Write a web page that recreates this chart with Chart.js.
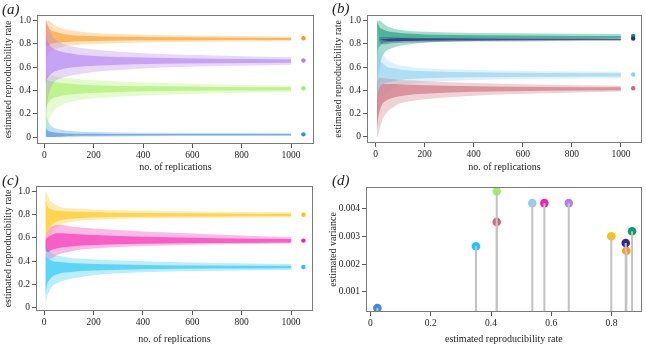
<!DOCTYPE html>
<html>
<head>
<meta charset="utf-8">
<script src="https://cdn.jsdelivr.net/npm/chart.js@4.4.1/dist/chart.umd.min.js"></script>
<style>
  html, body { margin: 0; padding: 0; background: #fff; }
  #wrap { position: relative; width: 646px; height: 345px; overflow: hidden; }
  canvas { position: absolute; }
</style>
</head>
<body>
<div id="wrap">
  <canvas id="ca" width="323" height="172" style="left:0;top:0"></canvas>
  <canvas id="cb" width="323" height="172" style="left:323px;top:0"></canvas>
  <canvas id="cc" width="323" height="173" style="left:0;top:172px"></canvas>
  <canvas id="cd" width="323" height="173" style="left:323px;top:172px"></canvas>
</div>
<script>
// no. of replications where the spread of the trajectories was read off
const reps = [5, 8, 12, 18, 25, 35, 50, 75, 100, 150, 200, 400, 700, 1000];

// panel (a): outer spread (lo/hi) and dense core (coreLo/coreHi)
const aOrangeLo     = [0.60, 0.66, 0.70, 0.72, 0.74, 0.75, 0.76, 0.775, 0.785, 0.795, 0.80, 0.812, 0.82, 0.825];
const aOrangeCoreLo = [0.78, 0.78, 0.78, 0.79, 0.80, 0.805, 0.81, 0.815, 0.82, 0.823, 0.826, 0.831, 0.834, 0.835];
const aOrangeCoreHi = [1.00, 0.98, 0.96, 0.94, 0.92, 0.91, 0.90, 0.885, 0.878, 0.87, 0.866, 0.86, 0.855, 0.852];
const aOrangeHi     = [1.00, 1.00, 1.00, 1.00, 0.99, 0.97, 0.95, 0.93, 0.92, 0.905, 0.895, 0.88, 0.87, 0.864];

const aVioletLo     = [0.05, 0.20, 0.30, 0.37, 0.42, 0.46, 0.49, 0.51, 0.525, 0.545, 0.56, 0.59, 0.61, 0.622];
const aVioletCoreLo = [0.45, 0.48, 0.50, 0.52, 0.54, 0.555, 0.57, 0.585, 0.595, 0.607, 0.613, 0.627, 0.634, 0.638];
const aVioletCoreHi = [0.90, 0.86, 0.83, 0.80, 0.78, 0.76, 0.745, 0.73, 0.72, 0.705, 0.697, 0.683, 0.672, 0.667];
const aVioletHi     = [1.00, 1.00, 0.98, 0.94, 0.90, 0.86, 0.83, 0.80, 0.785, 0.765, 0.752, 0.72, 0.70, 0.685];

const aGreenLo      = [0.00, 0.05, 0.10, 0.14, 0.18, 0.22, 0.25, 0.28, 0.30, 0.32, 0.332, 0.358, 0.377, 0.387];
const aGreenCoreLo  = [0.20, 0.25, 0.28, 0.30, 0.32, 0.335, 0.345, 0.357, 0.365, 0.375, 0.38, 0.393, 0.399, 0.402];
const aGreenCoreHi  = [0.50, 0.50, 0.49, 0.485, 0.48, 0.475, 0.47, 0.462, 0.457, 0.45, 0.445, 0.436, 0.431, 0.428];
const aGreenHi      = [0.60, 0.58, 0.56, 0.55, 0.54, 0.53, 0.52, 0.51, 0.505, 0.495, 0.488, 0.468, 0.452, 0.442];

const aBlueLo       = [0, 0, 0, 0, 0, 0, 0, 0, 0, 0.002, 0.003, 0.006, 0.008, 0.009];
const aBlueCoreLo   = [0, 0, 0, 0, 0, 0, 0.002, 0.005, 0.008, 0.01, 0.011, 0.013, 0.015, 0.015];
const aBlueCoreHi   = [0.08, 0.07, 0.06, 0.05, 0.045, 0.04, 0.036, 0.033, 0.031, 0.029, 0.028, 0.026, 0.025, 0.025];
const aBlueHi       = [0.22, 0.18, 0.15, 0.12, 0.10, 0.085, 0.072, 0.06, 0.053, 0.046, 0.043, 0.037, 0.034, 0.032];

// panel (b)
const bGreenLo      = [0.00, 0.30, 0.50, 0.60, 0.68, 0.72, 0.75, 0.77, 0.785, 0.80, 0.81, 0.825, 0.835, 0.84];
const bGreenCoreLo  = [0.50, 0.70, 0.76, 0.78, 0.80, 0.81, 0.815, 0.82, 0.825, 0.83, 0.835, 0.843, 0.848, 0.852];
const bGreenCoreHi  = [1.00, 0.98, 0.96, 0.94, 0.93, 0.92, 0.91, 0.90, 0.895, 0.887, 0.882, 0.875, 0.87, 0.868];
const bGreenHi      = [1.00, 1.00, 1.00, 1.00, 0.99, 0.97, 0.95, 0.93, 0.92, 0.91, 0.905, 0.895, 0.89, 0.886];

const bNavyLo       = [0.84, 0.84, 0.84, 0.82, 0.80, 0.795, 0.80, 0.805, 0.81, 0.812, 0.815, 0.82, 0.823, 0.825];
const bNavyCoreLo   = [0.84, 0.84, 0.84, 0.84, 0.835, 0.83, 0.825, 0.823, 0.824, 0.826, 0.828, 0.83, 0.832, 0.833];
const bNavyCoreHi   = [0.84, 0.84, 0.84, 0.84, 0.84, 0.842, 0.845, 0.847, 0.848, 0.847, 0.847, 0.845, 0.844, 0.843];
const bNavyHi       = [0.84, 0.84, 0.84, 0.86, 0.86, 0.86, 0.86, 0.858, 0.856, 0.854, 0.852, 0.85, 0.849, 0.848];

const bSkyLo        = [0.05, 0.12, 0.20, 0.27, 0.32, 0.36, 0.39, 0.42, 0.44, 0.46, 0.47, 0.49, 0.50, 0.505];
const bSkyCoreLo    = [0.25, 0.33, 0.38, 0.42, 0.44, 0.46, 0.47, 0.48, 0.49, 0.50, 0.505, 0.513, 0.518, 0.52];
const bSkyCoreHi    = [0.80, 0.75, 0.70, 0.66, 0.64, 0.62, 0.60, 0.59, 0.58, 0.57, 0.565, 0.556, 0.55, 0.548];
const bSkyHi        = [1.00, 0.95, 0.88, 0.80, 0.75, 0.70, 0.66, 0.63, 0.615, 0.60, 0.59, 0.575, 0.565, 0.56];

const bRoseLo       = [0.00, 0.00, 0.03, 0.08, 0.13, 0.18, 0.22, 0.26, 0.29, 0.31, 0.325, 0.355, 0.375, 0.39];
const bRoseCoreLo   = [0.05, 0.12, 0.18, 0.23, 0.27, 0.30, 0.32, 0.34, 0.35, 0.365, 0.372, 0.388, 0.397, 0.402];
const bRoseCoreHi   = [0.30, 0.36, 0.40, 0.43, 0.45, 0.455, 0.455, 0.455, 0.452, 0.448, 0.445, 0.437, 0.43, 0.428];
const bRoseHi       = [0.45, 0.48, 0.50, 0.51, 0.51, 0.505, 0.50, 0.495, 0.49, 0.485, 0.48, 0.465, 0.45, 0.44];

// panel (c)
const cGoldLo       = [0.05, 0.50, 0.55, 0.60, 0.63, 0.66, 0.69, 0.72, 0.735, 0.75, 0.757, 0.768, 0.774, 0.777];
const cGoldCoreLo   = [0.60, 0.62, 0.65, 0.68, 0.70, 0.72, 0.74, 0.755, 0.762, 0.77, 0.775, 0.782, 0.785, 0.787];
const cGoldCoreHi   = [1.00, 0.92, 0.88, 0.86, 0.85, 0.84, 0.835, 0.83, 0.827, 0.824, 0.82, 0.814, 0.81, 0.808];
const cGoldHi       = [1.00, 1.00, 0.98, 0.95, 0.92, 0.90, 0.88, 0.86, 0.855, 0.85, 0.845, 0.835, 0.825, 0.82];

const cPinkLo       = [0.46, 0.44, 0.43, 0.42, 0.42, 0.43, 0.45, 0.47, 0.48, 0.50, 0.51, 0.53, 0.545, 0.553];
const cPinkCoreLo   = [0.50, 0.49, 0.48, 0.48, 0.49, 0.50, 0.51, 0.52, 0.525, 0.535, 0.54, 0.55, 0.557, 0.56];
const cPinkCoreHi   = [0.58, 0.59, 0.60, 0.61, 0.62, 0.63, 0.64, 0.64, 0.635, 0.63, 0.625, 0.61, 0.598, 0.59];
const cPinkHi       = [0.60, 0.62, 0.65, 0.67, 0.69, 0.70, 0.71, 0.71, 0.70, 0.69, 0.68, 0.655, 0.63, 0.605];

const cCyanLo       = [0.00, 0.05, 0.10, 0.13, 0.16, 0.19, 0.21, 0.23, 0.245, 0.265, 0.28, 0.305, 0.318, 0.324];
const cCyanCoreLo   = [0.10, 0.15, 0.20, 0.23, 0.25, 0.27, 0.285, 0.30, 0.305, 0.315, 0.32, 0.33, 0.337, 0.34];
const cCyanCoreHi   = [0.45, 0.44, 0.43, 0.42, 0.41, 0.40, 0.395, 0.39, 0.385, 0.38, 0.375, 0.368, 0.362, 0.36];
const cCyanHi       = [0.55, 0.54, 0.52, 0.50, 0.48, 0.46, 0.45, 0.44, 0.43, 0.42, 0.415, 0.40, 0.385, 0.375];

// final estimates (dots at the right of a-c, x of panel d) and variances
const aEst = [0.849, 0.658, 0.419, 0.023];
const bEst = [0.868, 0.847, 0.537, 0.419];
const cEst = [0.799, 0.577, 0.350];
const aVar = [0.00249, 0.00421, 0.00464, 0.00042];
const bVar = [0.00319, 0.00277, 0.00421, 0.00353];
const cVar = [0.00301, 0.00421, 0.00265];

const aColors = ['#ff9a1e', '#b07ef2', '#a4ef60', '#3b8de4'];
const bColors = ['#0c9b74', '#2f2a86', '#8ed0ef', '#cc6a78'];
const cColors = ['#ffc20a', '#f51fae', '#1ec4f3'];

const rateTicks = [0, 0.2, 0.4, 0.6, 0.8, 1];
const rateLabels = ['0', '0.2', '0.4', '0.6', '0.8', '1.0'];
const repTicks = [0, 200, 400, 600, 800, 1000];
const repLabels = ['0', '200', '400', '600', '800', '1000'];
const varTicks = [0.001, 0.002, 0.003, 0.004];
const varLabels = ['0.001', '0.002', '0.003', '0.004'];
const estTicks = [0, 0.2, 0.4, 0.6, 0.8];
const estLabels = ['0', '0.2', '0.4', '0.6', '0.8'];
const dotRep = 1050;

const SERIF = "'Liberation Serif', 'DejaVu Serif', serif";

function rgba(hex, a) {
  const n = parseInt(hex.slice(1), 16);
  return `rgba(${n >> 16},${(n >> 8) & 255},${n & 255},${a})`;
}

function edge(vals, fill, bg) {
  return {
    type: 'line',
    data: reps.map((x, i) => ({ x, y: vals[i] })),
    borderColor: 'rgba(0,0,0,0)',
    borderWidth: 0,
    pointRadius: 0,
    cubicInterpolationMode: 'monotone',
    fill: fill,
    backgroundColor: bg || 'rgba(0,0,0,0)'
  };
}

function band(lo, coreLo, coreHi, hi, color, outerA = 0.3, coreA = 0.6) {
  return [
    edge(lo, false),
    edge(hi, '-1', rgba(color, outerA)),
    edge(coreLo, false),
    edge(coreHi, '-1', rgba(color, coreA))
  ];
}

function endDots(est, colors) {
  return {
    type: 'line',
    showLine: false,
    data: est.map(v => ({ x: dotRep, y: v })),
    pointRadius: 2.2,
    pointBorderWidth: 0,
    pointBackgroundColor: colors
  };
}

function makeChart(id, datasets, p) {
  const tickFont = { family: SERIF, size: 9.5 };
  const frame = {
    id: 'frame',
    afterDraw(chart) {
      const ctx = chart.ctx, ca = chart.chartArea;
      ctx.save();
      ctx.strokeStyle = '#7a7a7a';
      ctx.lineWidth = 1;
      ctx.strokeRect(Math.round(ca.left) + 0.5, Math.round(ca.top) + 0.5,
        Math.round(ca.right - ca.left) - 1, Math.round(ca.bottom - ca.top) - 1);
      ctx.fillStyle = '#222';
      ctx.textAlign = 'left';
      ctx.textBaseline = 'middle';
      ctx.font = `italic 15px ${SERIF}`;
      ctx.fillText(p.tag, p.tagX, p.tagY);
      ctx.font = `10px ${SERIF}`;
      ctx.textAlign = 'center';
      ctx.fillText(p.xTitle, (ca.left + ca.right) / 2, p.xTitleY);
      ctx.translate(p.yTitleX, (ca.top + ca.bottom) / 2);
      ctx.rotate(-Math.PI / 2);
      ctx.fillText(p.yTitle, 0, 0);
      ctx.restore();
    }
  };
  const canvas = document.getElementById(id);
  return new Chart(canvas, {
    type: 'line',
    data: { datasets },
    options: {
      responsive: false,
      animation: false,
      devicePixelRatio: 1,
      layout: { padding: { left: 0, top: p.box.t, right: canvas.width - p.box.r, bottom: 0 } },
      plugins: { legend: { display: false }, tooltip: { enabled: false } },
      scales: {
        x: {
          type: 'linear', min: p.xMin, max: p.xMax,
          afterFit: s => { s.height = canvas.height - p.box.b; },
          afterBuildTicks: s => { s.ticks = p.xTicks.map(v => ({ value: v })); },
          ticks: { callback: (v, i) => p.xLabels[i], font: tickFont, color: '#222', padding: 2, maxRotation: 0, autoSkip: false },
          grid: { drawOnChartArea: false, tickLength: 4, color: '#555' },
          border: { display: false }
        },
        y: {
          type: 'linear', min: p.yMin, max: p.yMax,
          afterFit: s => { s.width = p.box.l; },
          afterBuildTicks: s => { s.ticks = p.yTicks.map(v => ({ value: v })); },
          ticks: { callback: (v, i) => p.yLabels[i], font: tickFont, color: '#222', padding: 2, autoSkip: false },
          grid: { drawOnChartArea: false, tickLength: 4, color: '#555' },
          border: { display: false }
        }
      }
    },
    plugins: [frame]
  });
}

const rateText = { xTitle: 'no. of replications', yTitle: 'estimated reproducibility rate',
  xTicks: repTicks, xLabels: repLabels, yTicks: rateTicks, yLabels: rateLabels };

makeChart('ca', [
  ...band(aVioletLo, aVioletCoreLo, aVioletCoreHi, aVioletHi, aColors[1]),
  ...band(aGreenLo, aGreenCoreLo, aGreenCoreHi, aGreenHi, aColors[2]),
  ...band(aBlueLo, aBlueCoreLo, aBlueCoreHi, aBlueHi, aColors[3]),
  ...band(aOrangeLo, aOrangeCoreLo, aOrangeCoreHi, aOrangeHi, aColors[0]),
  endDots(aEst, aColors)
], Object.assign({}, rateText, { tag: '(a)', tagX: 2, tagY: 10, xTitleY: 167, yTitleX: 8,
  box: { l: 37, t: 15, r: 314, b: 144 }, xMin: -30, xMax: 1093, yMin: -0.06, yMax: 1.049 }));

makeChart('cb', [
  ...band(bRoseLo, bRoseCoreLo, bRoseCoreHi, bRoseHi, bColors[3]),
  ...band(bSkyLo, bSkyCoreLo, bSkyCoreHi, bSkyHi, bColors[2]),
  ...band(bNavyLo, bNavyCoreLo, bNavyCoreHi, bNavyHi, bColors[1], 0.3, 0.7),
  ...band(bGreenLo, bGreenCoreLo, bGreenCoreHi, bGreenHi, bColors[0], 0.35, 0.6),
  endDots(bEst, bColors)
], Object.assign({}, rateText, { tag: '(b)', tagX: 9, tagY: 9, xTitleY: 167, yTitleX: 15,
  box: { l: 44, t: 15, r: 321, b: 143 }, xMin: -35, xMax: 1086, yMin: -0.052, yMax: 1.049 }));

makeChart('cc', [
  ...band(cCyanLo, cCyanCoreLo, cCyanCoreHi, cCyanHi, cColors[2]),
  ...band(cPinkLo, cPinkCoreLo, cPinkCoreHi, cPinkHi, cColors[1]),
  ...band(cGoldLo, cGoldCoreLo, cGoldCoreHi, cGoldHi, cColors[0]),
  endDots(cEst, cColors)
], Object.assign({}, rateText, { tag: '(c)', tagX: 2, tagY: 9, xTitleY: 167, yTitleX: 8,
  box: { l: 36, t: 14, r: 313, b: 139 }, xMin: -33, xMax: 1089, yMin: -0.028, yMax: 1.046 }));

// panel (d): lollipops, stems from the bottom of the axis
const dRate = [...aEst, ...bEst, ...cEst];
const dVar = [...aVar, ...bVar, ...cVar];
const dColors = [...aColors, ...bColors, ...cColors];
const dVarMin = 0.000275;
const stems = dRate.map((r, i) => ({
  type: 'line',
  data: [{ x: r, y: dVarMin }, { x: r, y: dVar[i] }],
  borderColor: '#c2c2c2',
  borderWidth: 2,
  pointRadius: 0
}));
makeChart('cd', [
  ...stems,
  {
    type: 'line', showLine: false,
    data: dRate.map((r, i) => ({ x: r, y: dVar[i] })),
    pointRadius: 4.3, pointBorderWidth: 0, pointBackgroundColor: dColors
  }
], { tag: '(d)', tagX: 9, tagY: 9, xTitleY: 167, yTitleX: 10,
  xTitle: 'estimated reproducibility rate', yTitle: 'estimated variance',
  xTicks: estTicks, xLabels: estLabels, yTicks: varTicks, yLabels: varLabels,
  box: { l: 43, t: 15, r: 322, b: 140 }, xMin: -0.0148, xMax: 0.9, yMin: dVarMin, yMax: 0.004792 });
</script>
</body>
</html>
